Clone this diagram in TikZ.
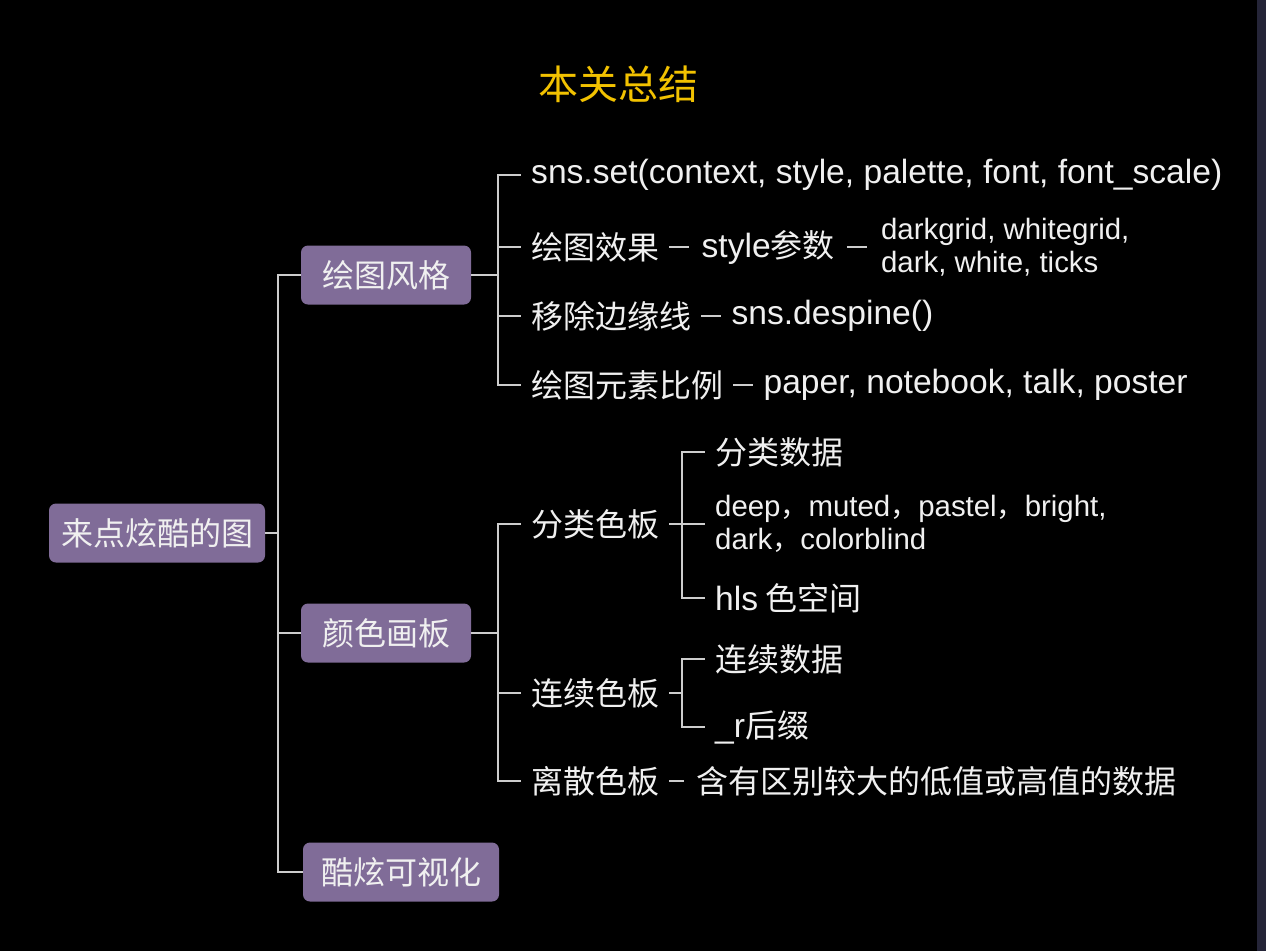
\documentclass[tikz,border=0pt]{standalone}
\usepackage{fontspec}
\setmainfont{Noto Sans CJK SC}
\newfontfamily\lat[Scale=1.05]{Liberation Sans}
\usepackage{xcolor}
\usetikzlibrary{positioning, calc}

\definecolor{fondo}{RGB}{0,0,0}
\definecolor{franja}{RGB}{37,37,56}
\definecolor{caja}{RGB}{128,108,152}
\definecolor{linea}{RGB}{205,205,205}
\definecolor{blanco}{RGB}{240,240,240}
\definecolor{oro}{RGB}{242,194,0}

\begin{document}
\begin{tikzpicture}[
		x=1pt, y=-1pt,
		node distance=20pt,
		% --- ESTILOS ---
		topic/.style={
			rectangle, fill=caja, rounded corners=7pt, text=blanco,
			minimum height=59pt, inner xsep=0pt, font=\fontsize{32}{38}\selectfont
		},
		leaf/.style={
			inner xsep=10pt, inner ysep=2pt, anchor=west, text=blanco,
			font=\fontsize{32}{38}\selectfont
		},
		smallleaf/.style={
			leaf, align=left, font=\fontsize{28}{33}\selectfont
		},
		link/.style={
			draw=linea, line width=2pt
		},
		headline/.style={
			text=oro, font=\fontsize{40}{46}\selectfont
		}
		]
		
		% --- 0. Fondo ---
		\fill[fondo] (0,0) rectangle (1266,951);
		\fill[franja] (1257,0) rectangle (1266,951);
		\useasboundingbox (0,0) rectangle (1266,951);
		
		\node [headline] (title) at (618,84) {本关总结};
		
		% --- 1. Raiz y temas principales ---
		\node [topic, minimum width=216pt] (root) at (157,533) {来点炫酷的图};
		\node [topic, minimum width=170pt] (drawstyle) at (386,275) {绘图风格};
		\node [topic, minimum width=170pt] (palette) at (386,633) {颜色画板};
		\node [topic, minimum width=196pt] (coolviz) at (401,872) {酷炫可视化};
		
		\coordinate (spine0) at ($(root.east)+(13,0)$);
		\foreach \t in {drawstyle, palette, coolviz}
			\draw [link] (root.east) -- (spine0) |- (\t.west);
		
		% --- 2. Rama:绘图风格 ---
		\node [leaf] (snsset) at (521,175) {\lat sns.set(context, style, palette, font, font\_scale)};
		\node [leaf] (effect) at (521,247) {绘图效果};
		\node [leaf, right=of effect, inner xsep=12pt] (styleparam) {{\lat style}参数};
		\node [smallleaf, right=of styleparam, inner xsep=14pt] (styles) {\lat darkgrid, whitegrid,\\\lat dark, white, ticks};
		\node [leaf] (despine) at (521,316) {移除边缘线};
		\node [leaf, right=of despine] (despinefn) {\lat sns.despine()};
		\node [leaf] (scale) at (521,385) {绘图元素比例};
		\node [leaf, right=of scale] (contexts) {\lat paper, notebook, talk, poster};
		
		\coordinate (spine1) at ($(drawstyle.east)+(27,0)$);
		\foreach \t in {snsset, effect, despine, scale}
			\draw [link] (drawstyle.east) -- (spine1) |- (\t.west);
		\draw [link] (effect.east) -- (styleparam.west);
		\draw [link] (styleparam.east) -- (styles.west);
		\draw [link] (despine.east) -- (despinefn.west);
		\draw [link] (scale.east) -- (contexts.west);
		
		% --- 3. Rama: 颜色画板 ---
		\node [leaf] (qual) at (521,524) {分类色板};
		\node [leaf] (seq) at (521,693) {连续色板};
		\node [leaf] (div) at (521,781) {离散色板};
		\node [leaf, right=15pt of div, inner xsep=12pt] (divnote) {含有区别较大的低值或高值的数据};
		
		\coordinate (spine2) at ($(palette.east)+(27,0)$);
		\foreach \t in {qual, seq, div}
			\draw [link] (palette.east) -- (spine2) |- (\t.west);
		\draw [link] (div.east) -- (divnote.west);
		
		% 分类色板
		\node [leaf] (qualdata) at (705,452) {分类数据};
		\node [smallleaf] (qualnames) at (705,524) {{\lat deep}，{\lat muted}，{\lat pastel}，{\lat bright,}\\{\lat dark}，{\lat colorblind}};
		\node [leaf] (hls) at (705,598) {{\lat hls} 色空间};
		
		\coordinate (spine3) at ($(qual.east)+(13,0)$);
		\foreach \t in {qualdata, qualnames, hls}
			\draw [link] (qual.east) -- (spine3) |- (\t.west);
		
		% 连续色板
		\node [leaf] (seqdata) at (705,659) {连续数据};
		\node [leaf] (reverse) at (705,727) {{\lat \_r}后缀};
		
		\coordinate (spine4) at ($(seq.east)+(13,0)$);
		\foreach \t in {seqdata, reverse}
			\draw [link] (seq.east) -- (spine4) |- (\t.west);
		
	\end{tikzpicture}
\end{document}
